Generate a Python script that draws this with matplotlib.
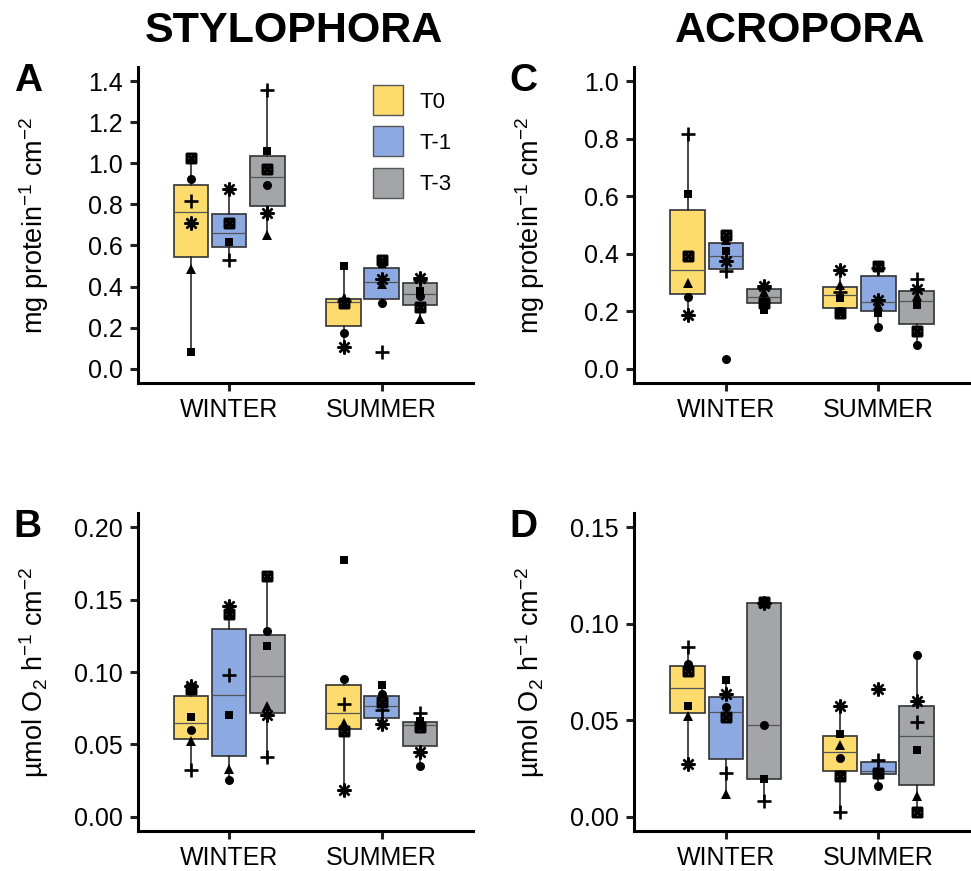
import numpy as np
import matplotlib.pyplot as plt
from matplotlib.patches import Patch
from matplotlib.path import Path

plt.rcParams['font.family'] = ['Liberation Sans', 'DejaVu Sans']
plt.rcParams['mathtext.default'] = 'regular'

seasons = ["WINTER", "SUMMER"]
treatments = ["T0", "T-1", "T-3"]
colors = ["#FDDB6D", "#8DA9E2", "#A3A5A8"]
# one value per colony, colonies drawn with different shapes
colonies = ["circle", "triangle", "square", "plus", "square_cross", "asterisk"]
nan = np.nan

# rows: WINTER T0, T-1, T-3, SUMMER T0, T-1, T-3
stylo_protein = [
    [0.922, 0.486, 0.080, 0.819, 1.027, 0.710],
    [nan,   nan,   0.615, 0.531, 0.711, 0.877],
    [0.895, 0.652, 1.059, 1.357, 0.972, 0.756],
    [0.174, 0.345, 0.502, 0.330, 0.318, 0.105],
    [0.318, 0.410, 0.509, 0.080, 0.530, 0.438],
    [0.355, 0.241, 0.377, 0.430, 0.298, 0.440],
]
acro_protein = [
    [0.249, 0.297, 0.607, 0.818, 0.393, 0.187],
    [0.035, 0.447, 0.408, 0.340, 0.466, 0.374],
    [0.236, 0.266, 0.203, 0.279, 0.228, 0.288],
    [0.200, 0.292, 0.245, 0.265, 0.193, 0.343],
    [0.146, 0.222, 0.195, 0.349, 0.356, 0.240],
    [0.083, 0.253, 0.221, 0.313, 0.132, 0.276],
]
stylo_o2 = [
    [0.0598, 0.0520, 0.0690, 0.0322, 0.0880, 0.0903],
    [0.0252, 0.0328, 0.0701, 0.0977, 0.1400, 0.1460],
    [0.1283, 0.0766, 0.1179, 0.0409, 0.1662, 0.0703],
    [0.0954, 0.0650, 0.1777, 0.0782, 0.0589, 0.0184],
    [0.0850, 0.0660, 0.0910, 0.0740, 0.0790, 0.0640],
    [0.0348, 0.0650, 0.0660, 0.0719, 0.0620, 0.0448],
]
acro_o2 = [
    [0.0790, 0.0522, 0.0574, 0.0881, 0.0755, 0.0273],
    [0.0571, 0.0117, 0.0707, 0.0224, 0.0517, 0.0635],
    [0.0476, nan,    0.0195, 0.0083, 0.1112, 0.1108],
    [0.0304, 0.0371, 0.0431, 0.0026, 0.0212, 0.0574],
    [0.0157, 0.0242, 0.0220, 0.0295, 0.0226, 0.0664],
    [0.0838, 0.0105, 0.0347, 0.0493, 0.0022, 0.0600],
]

protein_label = "mg protein$^{-1}$ cm$^{-2}$"
o2_label = "µmol O$_2$ h$^{-1}$ cm$^{-2}$"

# square with a cross inside (ggplot shape 7)
sq_cross = Path([(-1, -1), (1, -1), (1, 1), (-1, 1), (-1, -1),
                 (-1, -1), (1, 1), (1, -1), (-1, 1)],
                [Path.MOVETO, Path.LINETO, Path.LINETO, Path.LINETO, Path.CLOSEPOLY,
                 Path.MOVETO, Path.LINETO, Path.MOVETO, Path.LINETO])
marker_style = {
    "circle": dict(marker='o', ms=6.5, mfc='black', mec='black', mew=0),
    "triangle": dict(marker='^', ms=7.8, mfc='black', mec='black', mew=0),
    "square": dict(marker='s', ms=6.3, mfc='black', mec='black', mew=0),
    "plus": dict(marker='+', ms=9.5, mec='black', mew=1.9),
    "square_cross": dict(marker=sq_cross, ms=6.4, mfc='none', mec='black', mew=2.2),
    "asterisk": dict(marker=(8, 2, 0), ms=10, mec='black', mew=1.7),
}

fig = plt.figure(figsize=(9.71, 8.71), dpi=100)

panels = [
    ("A", stylo_protein, protein_label, [0.1421, 0.5603, 0.3450, 0.3628], 1.4, 0.2, "%.1f"),
    ("C", acro_protein, protein_label, [0.6530, 0.5603, 0.3460, 0.3628], 1.0, 0.2, "%.1f"),
    ("B", stylo_o2, o2_label, [0.1421, 0.0459, 0.3450, 0.3651], 0.20, 0.05, "%.2f"),
    ("D", acro_o2, o2_label, [0.6530, 0.0459, 0.3460, 0.3651], 0.15, 0.05, "%.2f"),
]

offsets = [-0.25, 0.0, 0.25]

for letter, data, ylabel, rect, ymax, step, fmt in panels:
    ax = fig.add_axes(rect)
    for s in range(2):
        for t in range(3):
            row = np.array(data[s * 3 + t])
            x = s + 1 + offsets[t]
            vals = row[~np.isnan(row)]
            ax.boxplot([vals], positions=[x], widths=0.225, patch_artist=True,
                       showfliers=False, showcaps=False, whis=1.5, manage_ticks=False,
                       boxprops=dict(facecolor=colors[t], edgecolor='#333333', linewidth=1.2),
                       medianprops=dict(color='#555555', linewidth=0.9),
                       whiskerprops=dict(color='#2a2a2a', linewidth=1.2))
            for k, name in enumerate(colonies):
                if not np.isnan(row[k]):
                    ax.plot([x], [row[k]], linestyle='none', zorder=5, **marker_style[name])

    pad = 0.05 * ymax
    ax.set_ylim(-pad, ymax + pad)
    ax.set_xlim(0.4, 2.6)
    ticks = np.arange(0, ymax + step / 2, step)
    ax.set_yticks(ticks)
    ax.set_yticklabels([fmt % v for v in ticks])
    ax.set_xticks([1, 2])
    ax.set_xticklabels(seasons)
    ax.set_ylabel(ylabel, fontsize=19.5)
    ax.yaxis.set_label_coords(-0.26, 0.5)

    for side in ['top', 'right']:
        ax.spines[side].set_visible(False)
    for side in ['left', 'bottom']:
        ax.spines[side].set_linewidth(2.2)
        ax.spines[side].set_color('black')
    ax.tick_params(axis='both', length=6, width=2.2, color='#222222',
                   labelsize=18, labelcolor='black', pad=5)

    fig.text(rect[0] - 0.128, rect[1] + rect[3] + 0.005, letter,
             fontsize=28, fontweight='bold', ha='left', va='top')

    if letter == "A":
        handles = [Patch(facecolor=c, edgecolor='#555555', linewidth=1.0, label=lab)
                   for c, lab in zip(colors, treatments)]
        ax.legend(handles=handles, loc='upper left', bbox_to_anchor=(0.701, 0.942),
                  frameon=False, fontsize=16, handlelength=1.35, handleheight=1.7,
                  labelspacing=0.5, handletextpad=0.75, borderpad=0, borderaxespad=0)

fig.text(294 / 971, 1 - 31 / 871, "STYLOPHORA", fontsize=31, fontweight='bold',
         ha='center', va='center')
fig.text(800 / 971, 1 - 31 / 871, "ACROPORA", fontsize=31, fontweight='bold',
         ha='center', va='center')

fig.savefig("out.png", dpi=100)
